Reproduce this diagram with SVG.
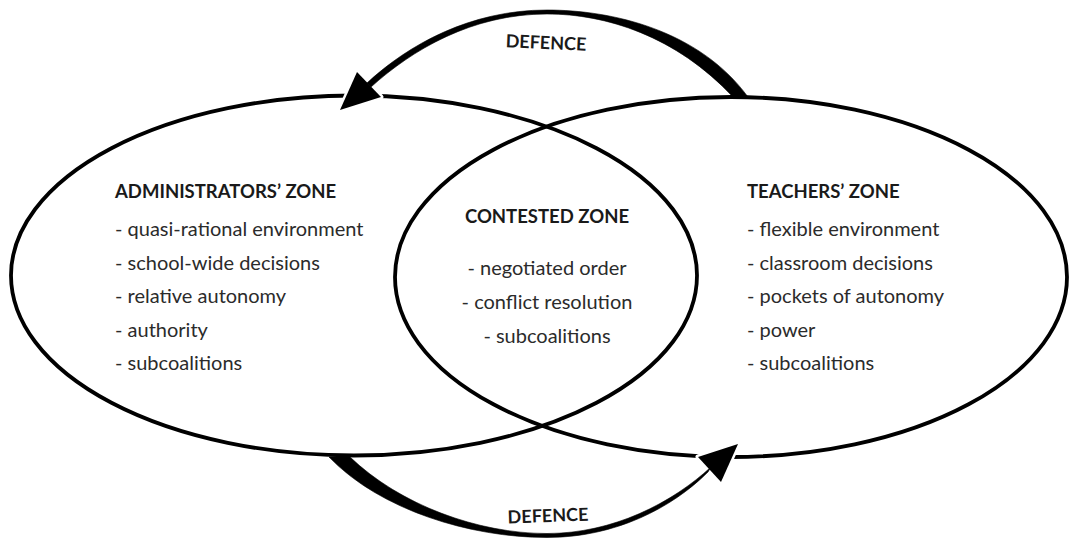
<svg xmlns="http://www.w3.org/2000/svg" width="1071" height="540" viewBox="0 0 1071 540">
<style>
.zone{fill:none;stroke:#000;stroke-width:3.8}
.halo{fill:#fff;stroke:#fff;stroke-width:5;stroke-linejoin:round}
.shaft{fill:#000;stroke:#000;stroke-width:0.6}
.head{fill:#000}
.h{font-family:Lato,"Open Sans",sans-serif;font-weight:bold;font-size:18.5px;fill:#1a1a1a}
.t{font-family:Lato,"Open Sans",sans-serif;font-size:20px;fill:#2b2b2b}
.d{font-family:Lato,"Open Sans",sans-serif;font-weight:bold;font-size:18px;fill:#1a1a1a}
</style>
<rect width="1071" height="540" fill="#fff"/>
<g id="admin-zone">
<ellipse class="zone" cx="354" cy="275.5" rx="343" ry="180"/>
</g>
<g id="teachers-zone">
<ellipse class="zone" cx="731" cy="277" rx="336" ry="180"/>
</g>
<g id="connectors">
<polygon class="halo" points="340,110 357,72 381,97"/>
<polygon class="halo" points="738,444 698,457 721,482"/>
<path class="shaft" d="M748,97 C699,30 612,10 547,10 C470,10 408,45 367,83 L371,87 C412,50 472,14 547,14 C606,14 676,36 733,97 Z"/>
<path class="shaft" d="M329,457 C380,510 470,537.5 547,537.5 C615,537.5 672,508 708,472 L711,467 C672,503 613,533.5 547,533.5 C478,533.5 400,505 350,457 Z"/>
<polygon class="head" points="340,110 357,72 381,97"/>
<polygon class="head" points="738,444 698,457 721,482"/>
<text class="d" x="546" y="49" text-anchor="middle" transform="rotate(2.5 546 43)">DEFENCE</text>
<text class="d" x="548" y="522" text-anchor="middle" transform="rotate(-2 548 516)">DEFENCE</text>
</g>
<g id="admin-text">
<text class="h" x="115" y="198">ADMINISTRATORS’ ZONE</text>
<text class="t" x="115" y="236">- quasi-rational environment</text>
<text class="t" x="115" y="270">- school-wide decisions</text>
<text class="t" x="115" y="303">- relative autonomy</text>
<text class="t" x="115" y="337">- authority</text>
<text class="t" x="115" y="370">- subcoalitions</text>
</g>
<g id="contested-zone">
<text class="h" x="547" y="223" text-anchor="middle">CONTESTED ZONE</text>
<text class="t" x="547" y="275" text-anchor="middle">- negotiated order</text>
<text class="t" x="547" y="309" text-anchor="middle">- conflict resolution</text>
<text class="t" x="547" y="343" text-anchor="middle">- subcoalitions</text>
</g>
<g id="teachers-text">
<text class="h" x="747" y="198">TEACHERS’ ZONE</text>
<text class="t" x="747" y="236">- flexible environment</text>
<text class="t" x="747" y="270">- classroom decisions</text>
<text class="t" x="747" y="303">- pockets of autonomy</text>
<text class="t" x="747" y="337">- power</text>
<text class="t" x="747" y="370">- subcoalitions</text>
</g>
</svg>
